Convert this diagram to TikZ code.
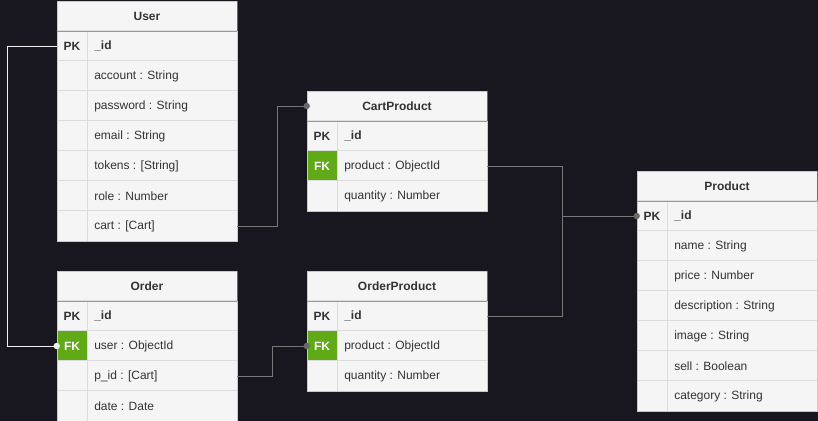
\documentclass[tikz,border=0pt]{standalone}
\usepackage{fontspec}
\setmainfont{Liberation Sans}
\definecolor{bgcol}{HTML}{18161E}
\definecolor{rowbg}{HTML}{F5F5F5}
\definecolor{txtcol}{HTML}{333333}
\definecolor{fkgreen}{HTML}{60A917}
\definecolor{sepcol}{HTML}{DDDDDD}
\definecolor{outcol}{HTML}{C8C8C8}
\definecolor{hsepcol}{HTML}{999999}
\definecolor{linecol}{HTML}{777777}
\definecolor{dotcol}{HTML}{6A6A6A}
\definecolor{wcol}{HTML}{F0F0F0}
\newcommand{\ertable}[6]{% name, x0, y0, title, nrows, rows
  \node[hdr] (#1-h) at (#2+90,#3+15) {#4};
  \foreach \k/\t/\s [count=\i] in {#6} {
    \node[rowbox] (#1-\i) at (#2+90,#3+15+30*\i) {};
    \node[keycell,key\s] (#1-k\i) at (#2+15,#3+15+30*\i) {\k};
    \node[fieldtxt,txt\s] (#1-t\i) at (#2+37,#3+15+30*\i) {\t};
    \draw[rowsep] (#1-k\i.north east) -- (#1-k\i.south east);
    \draw[rowsep] (#1-\i.north west) -- (#1-\i.north east);
  }
  \draw[tblout] (#2,#3) rectangle (#2+180,#3+30+30*#5);
  \draw[hsep] (#1-h.south west) -- (#1-h.south east);
  \draw[hedge] (#1-h.north east) -- (#1-h.south east);
}
\begin{document}
\begin{tikzpicture}[x=0.75pt,y=-0.75pt,
  font=\fontsize{9}{11}\selectfont,
  hdr/.style={rectangle,minimum width=135pt,minimum height=22.5pt,inner sep=0pt,fill=rowbg,text=txtcol,font=\fontsize{9}{11}\selectfont\bfseries},
  rowbox/.style={rectangle,minimum width=135pt,minimum height=22.5pt,inner sep=0pt,fill=rowbg},
  keycell/.style={rectangle,minimum width=22.5pt,minimum height=22.5pt,inner sep=0pt,text=txtcol},
  keypk/.style={font=\fontsize{9}{11}\selectfont\bfseries},
  keyfk/.style={fill=fkgreen,text=white,font=\fontsize{9}{11}\selectfont\bfseries},
  keyn/.style={},
  fieldtxt/.style={anchor=west,inner sep=0pt,text=txtcol},
  txtpk/.style={font=\fontsize{9}{11}\selectfont\bfseries},
  txtfk/.style={},
  txtn/.style={},
  rowsep/.style={draw=sepcol,line width=0.75pt},
  tblout/.style={draw=outcol,line width=0.75pt},
  hsep/.style={draw=hsepcol,line width=0.75pt},
  hedge/.style={draw=dotcol,line width=0.75pt},
  gline/.style={draw=linecol,line width=0.75pt},
  wline/.style={draw=wcol,line width=0.75pt},
  gdot/.style={fill=dotcol},
  wdot/.style={fill=wcol}]
\useasboundingbox (0,0) rectangle (818,421);
\fill[bgcol] (0,0) rectangle (818,421);
\clip (0,0) rectangle (818,421);

\ertable{user}{57}{1}{User}{7}{PK/\_id/pk, /account : String/n, /password : String/n, /email : String/n, /tokens : [String]/n, /role : Number/n, /cart : [Cart]/n}
\ertable{cart}{307}{91}{CartProduct}{3}{PK/\_id/pk, FK/product : ObjectId/fk, /quantity : Number/n}
\ertable{prod}{637}{171}{Product}{7}{PK/\_id/pk, /name : String/n, /price : Number/n, /description : String/n, /image : String/n, /sell : Boolean/n, /category : String/n}
\ertable{order}{57}{271}{Order}{4}{PK/\_id/pk, FK/user : ObjectId/fk, /p\_id : [Cart]/n, /date : Date/n}
\ertable{op}{307}{271}{OrderProduct}{3}{PK/\_id/pk, FK/product : ObjectId/fk, /quantity : Number/n}

% connectors
\draw[wline] (user-1.west) -- ++(-49,0) |- (order-2.west);
\fill[wdot] (order-2.west) circle (2.4pt);

\draw[gline] (user-7.east) -- ++(40,0) |- (cart-h.west);
\fill[gdot] (cart-h.west) circle (2.4pt);

\draw[gline] (cart-2.east) -- ++(75,0) |- (prod-1.west);
\draw[gline] (op-1.east) -- ++(75,0) |- (prod-1.west);
\fill[gdot] (prod-1.west) circle (2.4pt);

\draw[gline] (order-3.east) -- ++(35,0) |- (op-2.west);
\fill[gdot] (op-2.west) circle (2.4pt);
\end{tikzpicture}
\end{document}
